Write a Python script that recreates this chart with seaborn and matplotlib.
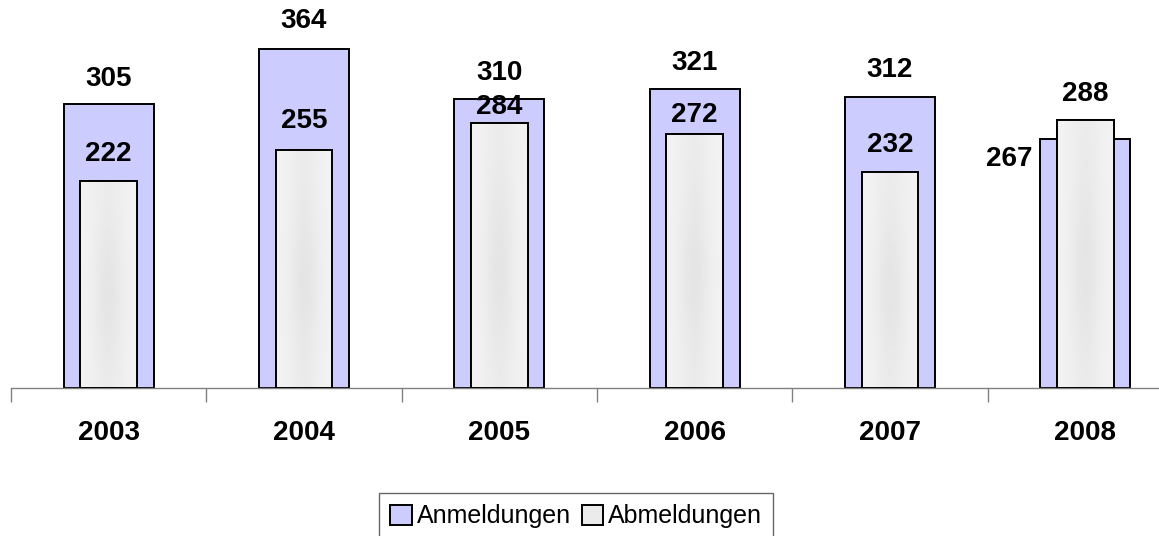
import numpy as np
import matplotlib
matplotlib.use("Agg")
import matplotlib.pyplot as plt
from matplotlib.patches import Patch, Rectangle
import seaborn as sns

# --- DATA ---
years = ["2003", "2004", "2005", "2006", "2007", "2008"]
anmeldungen = [305, 364, 310, 321, 312, 267]
abmeldungen = [222, 255, 284, 272, 232, 288]

# --- STYLE ---
OUTER_COLOR = "#CCCCFF"
INNER_COLOR = "#F0F0F0"
AXIS_GRAY = "#808080"
# label distance above bar top (pixels)
outer_label_off = [25, 28, 26, 26, 27, 0]
inner_label_off = [27, 29, 16, 19, 27, 26]

sns.set_style("white")
plt.rcParams["font.family"] = ["Liberation Sans", "DejaVu Sans"]
plt.rcParams["text.color"] = "black"
plt.rcParams["xtick.color"] = "black"

W, H = 1159, 536
fig = plt.figure(figsize=(W / 100, H / 100), dpi=100)
# axes run past the right edge, like the cropped original
ax = fig.add_axes([11 / W, (H - 388) / H, 1172 / W, 388 / H])

sns.barplot(x=years, y=anmeldungen, color=OUTER_COLOR, edgecolor="black",
            linewidth=1.4, width=0.46, saturation=1, ax=ax, zorder=2)
sns.barplot(x=years, y=abmeldungen, color=INNER_COLOR, edgecolor="black",
            linewidth=1.4, width=0.29, saturation=1, ax=ax, zorder=3)

# soft grey gradient inside the inner bars
gx = np.linspace(-1, 1, 60)
gy = np.linspace(0, 1, 120)
X, Y = np.meshgrid(gx, gy)
shade = np.exp(-(X / 0.55) ** 2) * (0.5 + 0.5 * np.exp(-((Y - 0.45) / 0.3) ** 2))
grad = (243 - 14 * shade) / 255.0
grad_rgb = np.dstack([grad, grad, grad])
for p in ax.containers[1].patches:
    x0, w, h = p.get_x(), p.get_width(), p.get_height()
    im = ax.imshow(grad_rgb, extent=[x0, x0 + w, 0, h], origin="lower",
                   aspect="auto", zorder=3.1, interpolation="bilinear")
    im.set_clip_path(p)
    ax.add_patch(Rectangle((x0, 0), w, h, fill=False, edgecolor="black",
                           linewidth=1.4, zorder=3.2))

ax.set_xlim(-0.5, 5.5)
ax.set_ylim(0, 388 / 0.932)

# value labels
lab_kw = dict(textcoords="offset pixels", ha="center", va="center",
              fontsize=20, fontweight="bold", color="black", zorder=5)
for i, v in enumerate(anmeldungen):
    if years[i] == "2008":
        ax.annotate(str(v), xy=(i - 0.23, v), xytext=(-8, -20),
                    **{**lab_kw, "ha": "right"})
    else:
        ax.annotate(str(v), xy=(i, v), xytext=(0, outer_label_off[i]), **lab_kw)
for i, v in enumerate(abmeldungen):
    ax.annotate(str(v), xy=(i, v), xytext=(0, inner_label_off[i]), **lab_kw)

# axes: only a grey baseline, ticks between categories
for s in ["top", "right", "left"]:
    ax.spines[s].set_visible(False)
ax.spines["bottom"].set_color(AXIS_GRAY)
ax.spines["bottom"].set_linewidth(1.0)
ax.set_yticks([])
ax.set_xticks(range(len(years)))
ax.set_xticklabels(years, fontsize=20, fontweight="bold", color="black")
ax.tick_params(axis="x", which="major", length=0, pad=23)
ax.set_xticks(np.arange(-0.5, len(years), 1.0), minor=True)
ax.tick_params(axis="x", which="minor", bottom=True, length=10, width=1.0,
               color=AXIS_GRAY, direction="out")
ax.set_xlabel("")
ax.set_ylabel("")

handles = [
    Patch(facecolor=OUTER_COLOR, edgecolor="black", linewidth=1.4, label="Anmeldungen"),
    Patch(facecolor="#EBEBEB", edgecolor="black", linewidth=1.4, label="Abmeldungen"),
]
leg = fig.legend(handles=handles, loc="upper left",
                 bbox_to_anchor=(379 / W, 1 - 493 / H), ncol=2,
                 fontsize=18, frameon=True, fancybox=False, borderpad=0.45,
                 borderaxespad=0, handlelength=0.85, handleheight=0.85,
                 handletextpad=0.2, columnspacing=0.45)
leg.get_frame().set_edgecolor("#404040")
leg.get_frame().set_linewidth(1.0)

fig.savefig("out.png", dpi=100)
